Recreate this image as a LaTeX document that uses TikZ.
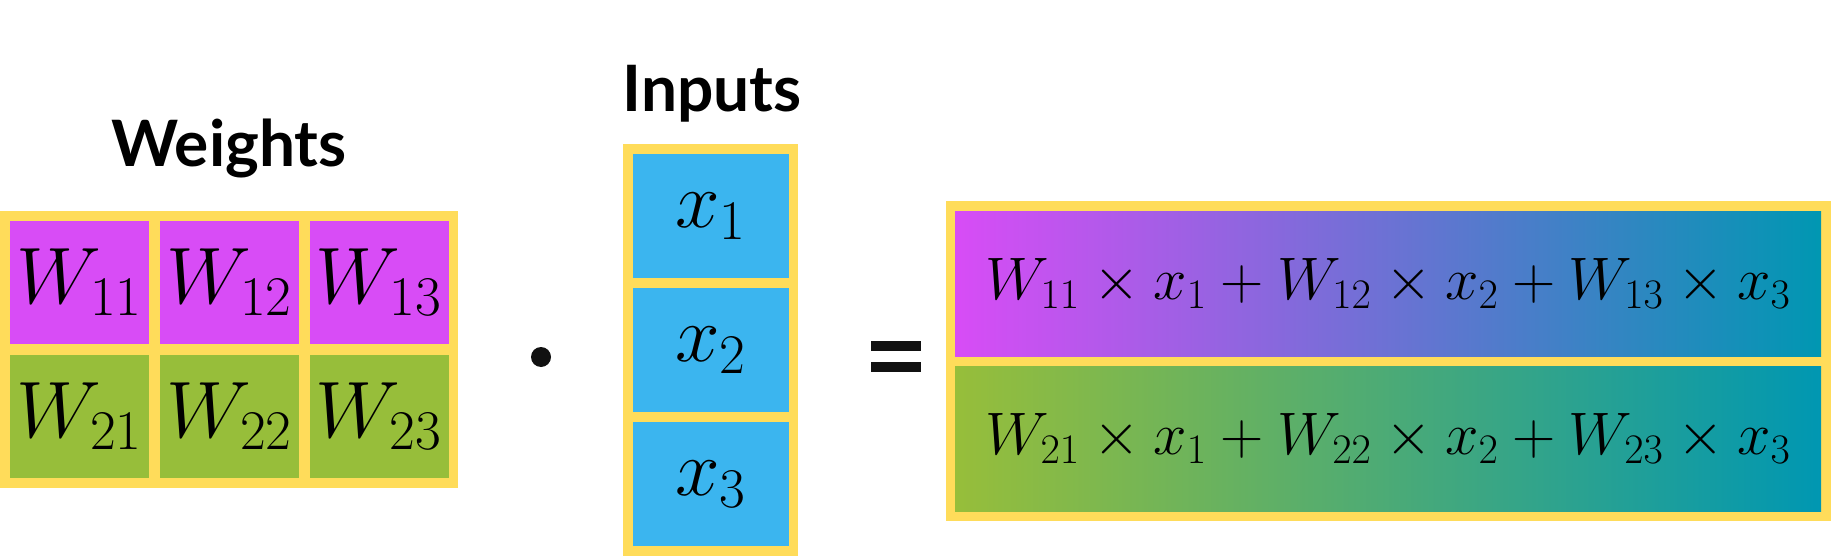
\documentclass[tikz,border=0pt]{standalone}
\usepackage{fix-cm}
\usepackage{fontspec}
\setsansfont{Lato}
\definecolor{wpink}{HTML}{D84CF6}
\definecolor{wgreen}{HTML}{97BE3A}
\definecolor{xblue}{HTML}{3BB5EF}
\definecolor{frameyel}{HTML}{FFDC5A}
\definecolor{rteal}{HTML}{0097B2}
\definecolor{ink}{HTML}{111111}
\tikzset{
  cell/.style={inner sep=0pt, minimum width=69.5pt, minimum height=61.5pt,
    font=\fontsize{40}{44}\selectfont},
  xcell/.style={cell, fill=xblue, minimum width=78pt, minimum height=62pt},
  rcell/.style={inner sep=0pt, minimum width=433pt, minimum height=72.5pt,
    right color=rteal, font=\fontsize{30}{33}\selectfont},
  frame/.style={fill=frameyel, inner sep=0pt, draw=none},
  title/.style={font=\sffamily\bfseries\fontsize{32}{35}\selectfont, anchor=base, inner sep=0pt}
}
\begin{document}
\begin{tikzpicture}[x=0.5pt, y=-0.5pt]
  \useasboundingbox (0,0) rectangle (1831,556);
  % weights
  \node[title] (wtitle) at (229,167) {Weights};
  \node[frame, minimum width=229pt, minimum height=138.5pt] (wframe) at (229,349.5) {};
  \node[cell, fill=wpink] (w11) at (79.5,282.5) {$W_{11}$};
  \node[cell, fill=wpink] (w12) at (229.5,282.5) {$W_{12}$};
  \node[cell, fill=wpink] (w13) at (379,282.5) {$W_{13}$};
  \node[cell, fill=wgreen] (w21) at (79.5,416.5) {$W_{21}$};
  \node[cell, fill=wgreen] (w22) at (229.5,416.5) {$W_{22}$};
  \node[cell, fill=wgreen] (w23) at (379,416.5) {$W_{23}$};
  \fill[ink] (541,357) circle (10);
  % inputs
  \node[title] (xtitle) at (712,112) {Inputs};
  \node[frame, minimum width=87.5pt, minimum height=206pt] (xframe) at (710.5,350) {};
  \node[xcell] (x1) at (711,216) {$x_1$};
  \node[xcell] (x2) at (711,350) {$x_2$};
  \node[xcell] (x3) at (711,484) {$x_3$};
  % result
  \fill[ink] (871,341) rectangle (921,351);
  \fill[ink] (871,362) rectangle (921,372);
  \node[frame, minimum width=442.5pt, minimum height=160pt] (rframe) at (1388.5,361) {};
  \node[rcell, left color=wpink] (r1) at (1388,283.5)
    {$W_{11}\times x_1+W_{12}\times x_2+W_{13}\times x_3$};
  \node[rcell, left color=wgreen] (r2) at (1388,438.5)
    {$W_{21}\times x_1+W_{22}\times x_2+W_{23}\times x_3$};
\end{tikzpicture}
\end{document}
